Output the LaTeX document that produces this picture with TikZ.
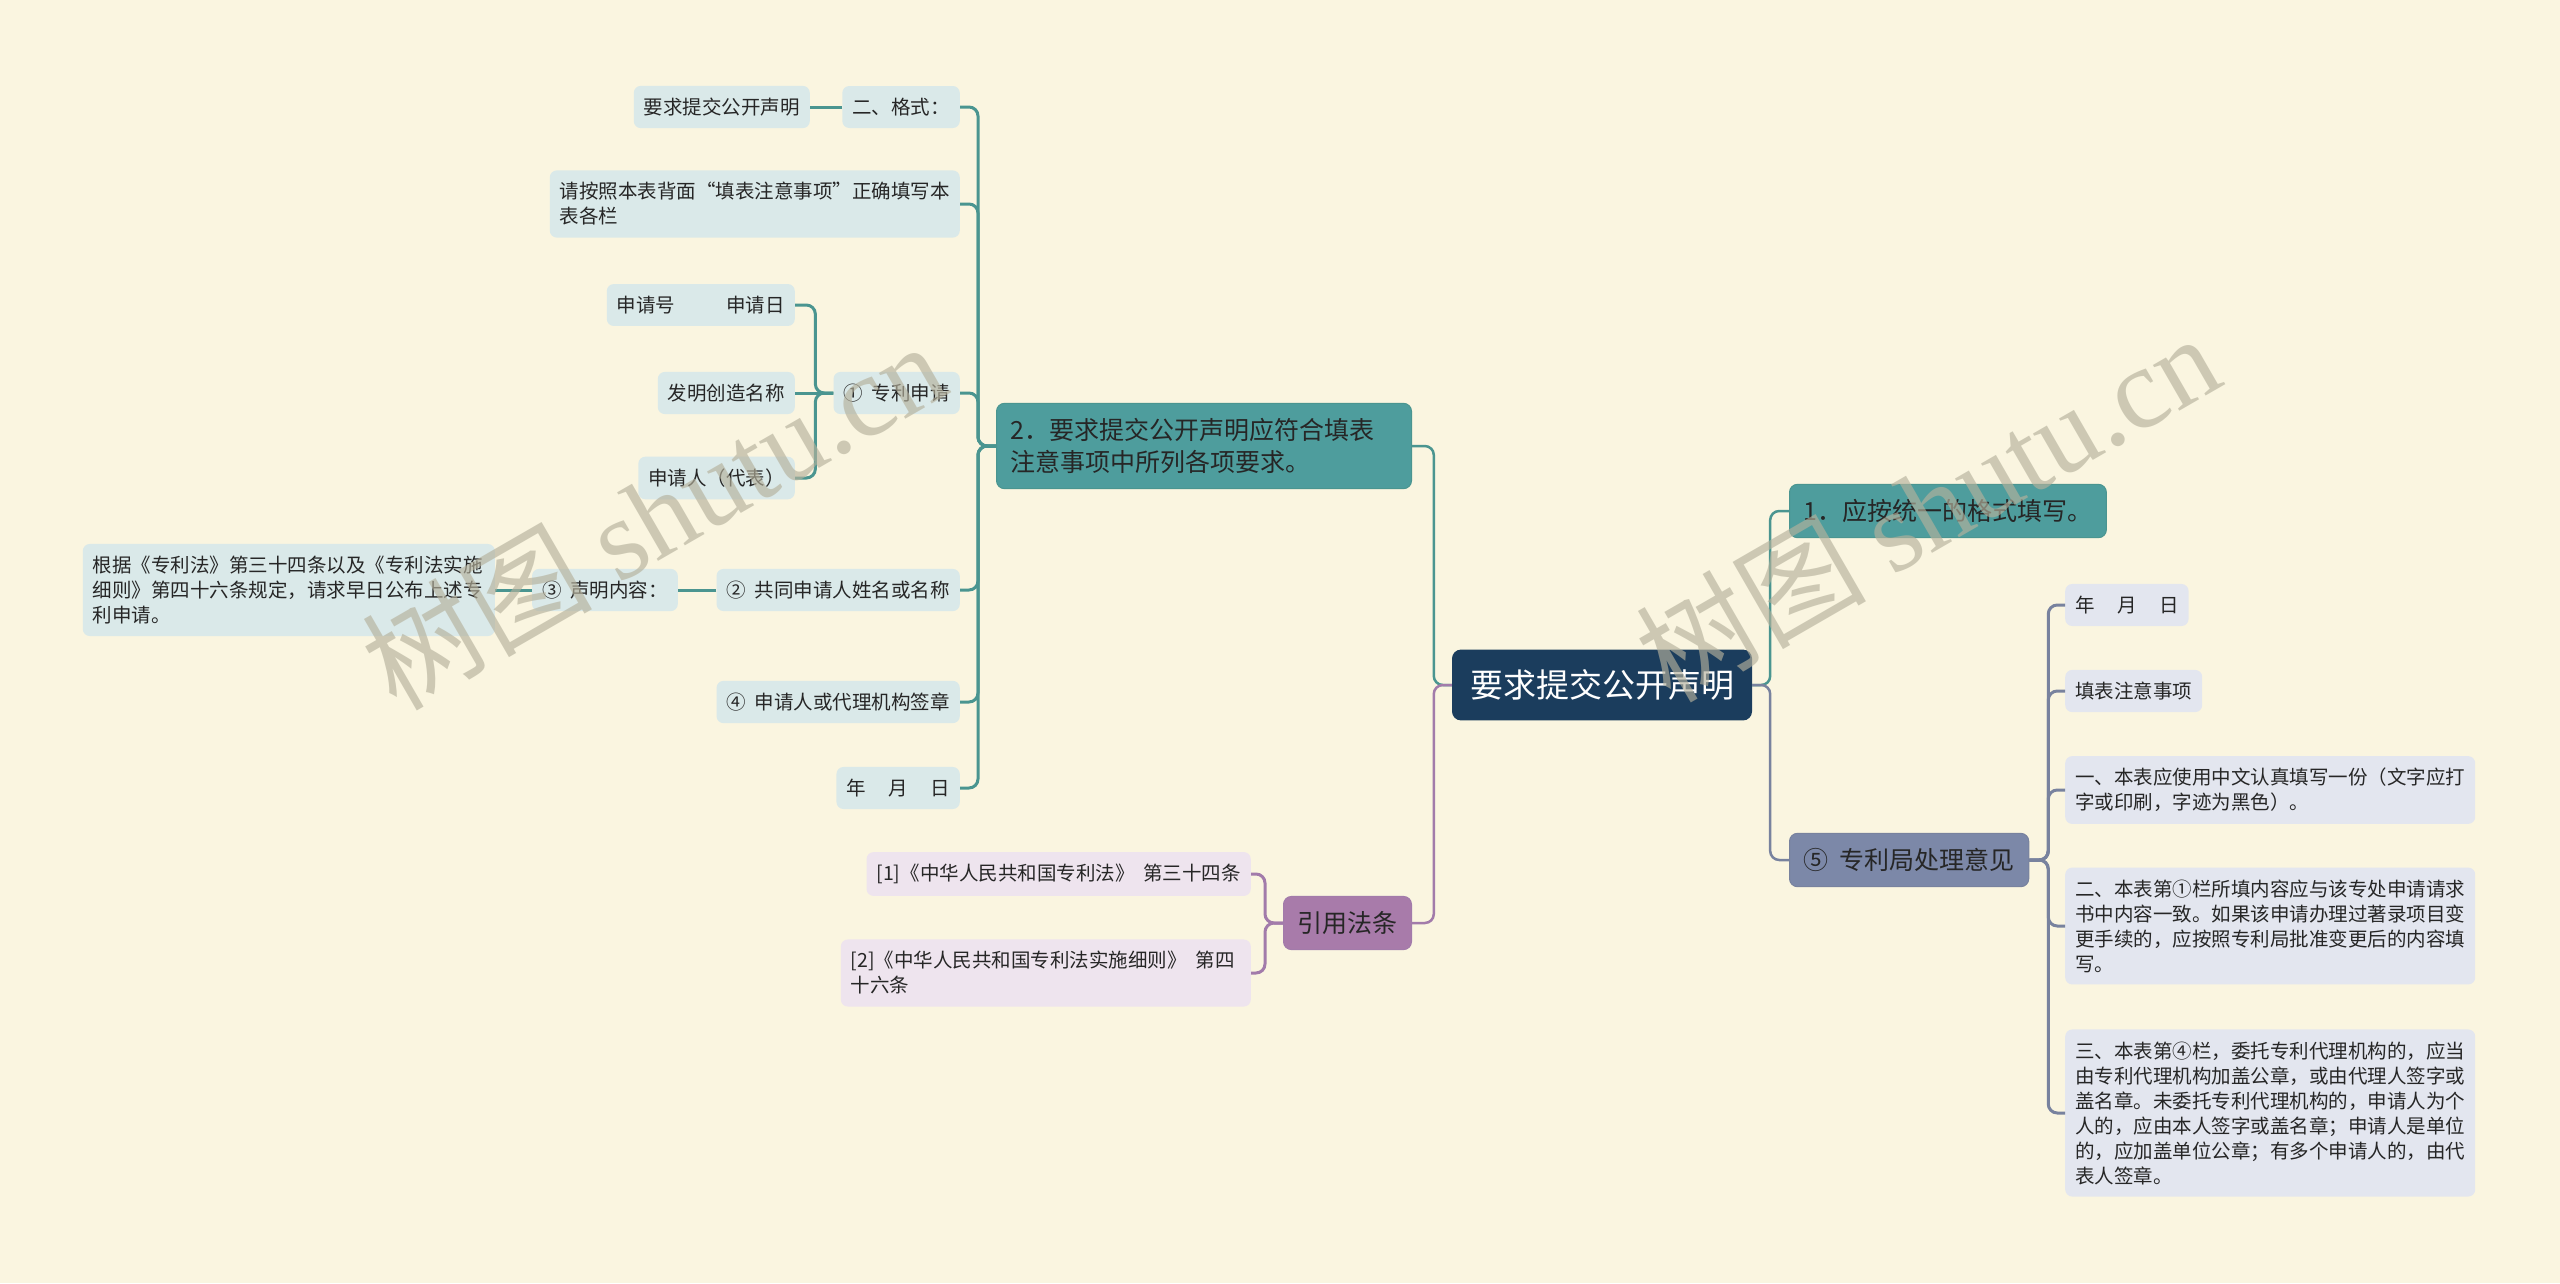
\documentclass[tikz,border=0pt]{standalone}
\usepackage{fontspec}
\setmainfont{Noto Sans CJK SC}
\newfontfamily\wmserif{Liberation Serif}
\definecolor{bgc}{HTML}{FAF5E0}
\definecolor{rootc}{HTML}{1B3D5D}
\definecolor{tealmainc}{HTML}{4E9D9D}
\definecolor{tealleafc}{HTML}{DAE9E9}
\definecolor{teallinec}{HTML}{4A9590}
\definecolor{purmainc}{HTML}{A87BAA}
\definecolor{purleafc}{HTML}{EEE4EE}
\definecolor{purlinec}{HTML}{A27BAA}
\definecolor{slamainc}{HTML}{7C88A8}
\definecolor{slaleafc}{HTML}{E3E6EF}
\definecolor{slalinec}{HTML}{78829E}
\definecolor{txtc}{HTML}{262626}
\definecolor{wmc}{HTML}{B5B19C}
\newcommand{\gapnum}{\hspace{0.45em}}
\tikzset{
  leafbox/.style={rounded corners=7pt, inner xsep=10pt, inner ysep=12pt,
    font=\fontsize{19.5pt}{25pt}\selectfont, text=txtc, align=left},
  tleaf/.style={leafbox, fill=tealleafc},
  pleaf/.style={leafbox, fill=purleafc},
  sleaf/.style={leafbox, fill=slaleafc},
  mainbox/.style={rounded corners=8pt, inner xsep=14pt, inner ysep=15pt,
    font=\fontsize{25pt}{32pt}\selectfont, text=txtc, align=left},
  tmain/.style={mainbox, fill=tealmainc, draw=teallinec, line width=1pt},
  pmain/.style={mainbox, fill=purmainc, draw=purlinec, line width=1pt},
  smain/.style={mainbox, fill=slamainc, draw=slalinec, line width=1pt},
  rootbox/.style={rounded corners=9pt, inner xsep=18pt, inner ysep=20pt,
    font=\fontsize{33pt}{40pt}\selectfont, text=white, fill=rootc},
  tlink/.style={draw=teallinec, line width=3pt, rounded corners=9pt},
  plink/.style={draw=purlinec, line width=3pt, rounded corners=9pt},
  slink/.style={draw=slalinec, line width=3pt, rounded corners=9pt},
  wmark/.style={text=wmc, opacity=0.65, rotate=30, font=\fontsize{115pt}{120pt}\selectfont}
}
\begin{document}
\begin{tikzpicture}[x=1pt,y=-1pt]
\fill[bgc] (0,0) rectangle (2560,1283);
\useasboundingbox (0,0) rectangle (2560,1283);

% main nodes
\node[rootbox] (root) at (1602,685) {要求提交公开声明};
\node[tmain, anchor=west] (A) at (1789,511) {1．应按统一的格式填写。};
\node[smain, anchor=west] (B) at (1789,860) {⑤\gapnum 专利局处理意见};
\node[tmain, anchor=east, text width=387pt] (C) at (1412,446) {2．要求提交公开声明应符合填表\\注意事项中所列各项要求。};
\node[pmain, anchor=east] (D) at (1412,923) {引用法条};

% left teal leaves
\node[tleaf, anchor=east] (c1) at (960,107) {二、格式：};
\node[tleaf, anchor=east] (c1a) at (810,107) {要求提交公开声明};
\node[tleaf, anchor=east, text width=390pt] (c2) at (960,204) {请按照本表背面“填表注意事项”正确填写本\\表各栏};
\node[tleaf, anchor=east] (c3) at (960,393) {①\gapnum 专利申请};
\node[tleaf, anchor=east] (c3a) at (795,305) {申请号\hspace{51pt}申请日};
\node[tleaf, anchor=east] (c3b) at (795,393) {发明创造名称};
\node[tleaf, anchor=east] (c3c) at (795,478) {申请人（代表）};
\node[tleaf, anchor=east] (c4) at (960,590) {②\gapnum 共同申请人姓名或名称};
\node[tleaf, anchor=east] (c4a) at (678,590) {③\gapnum 声明内容：};
\node[tleaf, anchor=east, text width=392pt] (c4b) at (495,590) {根据《专利法》第三十四条以及《专利法实施\\细则》第四十六条规定，请求早日公布上述专\\利申请。};
\node[tleaf, anchor=east] (c5) at (960,702) {④\gapnum 申请人或代理机构签章};
\node[tleaf, anchor=east] (c6) at (960,788) {年\hspace{1.15em}月\hspace{1.15em}日};

% purple leaves
\node[pleaf, anchor=east] (d1) at (1251,874) {[1]《中华人民共和国专利法》\gapnum 第三十四条};
\node[pleaf, anchor=east, text width=390pt] (d2) at (1251,973) {[2]《中华人民共和国专利法实施细则》\gapnum 第四\\十六条};

% slate leaves
\node[sleaf, anchor=west] (b1) at (2065,605) {年\hspace{1.15em}月\hspace{1.15em}日};
\node[sleaf, anchor=west] (b2) at (2065,691) {填表注意事项};
\node[sleaf, anchor=west, text width=390pt] (b3) at (2065,790) {一、本表应使用中文认真填写一份（文字应打\\字或印刷，字迹为黑色）。};
\node[sleaf, anchor=west, text width=390pt] (b4) at (2065,926) {二、本表第①栏所填内容应与该专处申请请求\\书中内容一致。如果该申请办理过著录项目变\\更手续的，应按照专利局批准变更后的内容填\\写。};
\node[sleaf, anchor=west, text width=390pt] (b5) at (2065,1113) {三、本表第④栏，委托专利代理机构的，应当\\由专利代理机构加盖公章，或由代理人签字或\\盖名章。未委托专利代理机构的，申请人为个\\人的，应由本人签字或盖名章；申请人是单位\\的，应加盖单位公章；有多个申请人的，由代\\表人签章。};

% connectors from root
\draw[tlink, line width=2.5pt] (root.west) -- ++(-18,0) |- (C.east);
\draw[plink, line width=2.5pt] (root.west) -- ++(-18,0) |- (D.east);
\draw[tlink, line width=2.5pt] (root.east) -- ++(18,0) |- (A.west);
\draw[slink, line width=2.5pt] (root.east) -- ++(18,0) |- (B.west);

% C branch
\foreach \n in {c1,c2,c3,c4,c5,c6}{
  \draw[tlink] (C.west) -- ++(-18,0) |- (\n.east);
}
\draw[tlink] (c1.west) -- (c1a.east);
\draw[tlink] (c3.west) -- ++(-18,0) |- (c3a.east);
\draw[tlink] (c3.west) -- ++(-18,0) |- (c3c.east);
\draw[tlink] (c3.west) -- (c3b.east);
\draw[tlink] (c4.west) -- (c4a.east);
\draw[tlink] (c4a.west) -- (c4b.east);

% D branch
\draw[plink] (D.west) -- ++(-18,0) |- (d1.east);
\draw[plink] (D.west) -- ++(-18,0) |- (d2.east);

% B branch
\foreach \n in {b1,b2,b3,b4,b5}{
  \draw[slink] (B.east) -- ++(19,0) |- (\n.west);
}

% watermarks
\node[wmark] (wm1) at (653,514) {树图 {\wmserif shutu.cn}};
\node[wmark] (wm2) at (1927,506) {树图 {\wmserif shutu.cn}};
\end{tikzpicture}
\end{document}
